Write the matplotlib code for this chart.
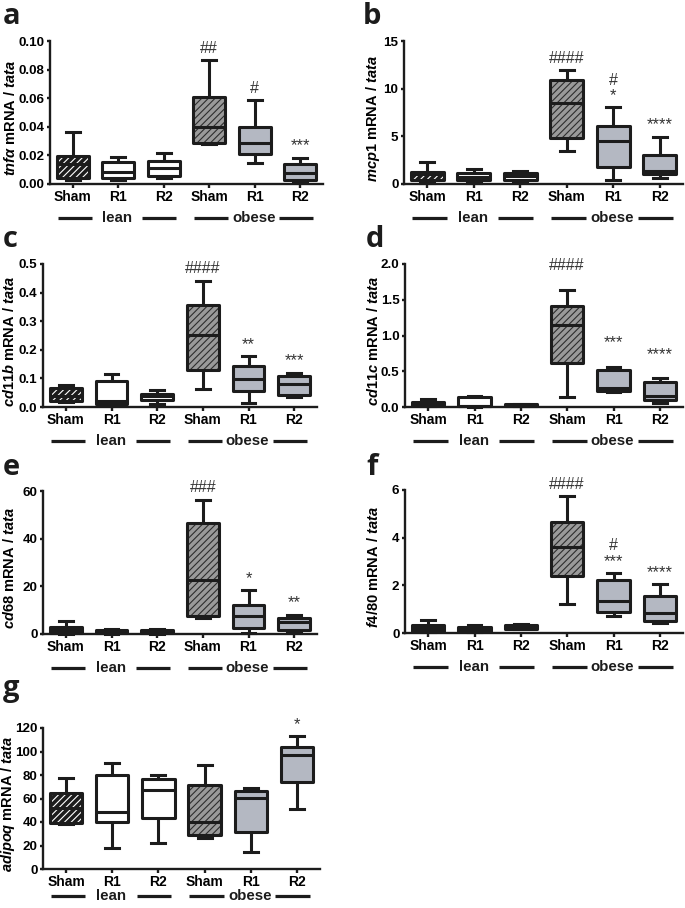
import numpy as np
import matplotlib.pyplot as plt
import matplotlib.transforms as mtransforms
from matplotlib.patches import PathPatch

plt.rcParams['font.family'] = ['Liberation Sans', 'DejaVu Sans']
plt.rcParams['mathtext.fontset'] = 'custom'
plt.rcParams['mathtext.it'] = 'Liberation Sans:italic:bold'
plt.rcParams['mathtext.rm'] = 'Liberation Sans:bold'
plt.rcParams['hatch.linewidth'] = 0.8

groups = ['Sham', 'R1', 'R2', 'Sham', 'R1', 'R2']
cohorts = ['lean', 'obese']

# each box: [whisker low, q1, median, q3, whisker high]
tnfa = [[0.003, 0.004, 0.014, 0.0196, 0.0366],
        [0.003, 0.004, 0.0086, 0.0156, 0.019],
        [0.0044, 0.0056, 0.0114, 0.0163, 0.0215],
        [0.0277, 0.029, 0.0396, 0.0606, 0.0867],
        [0.0145, 0.021, 0.0284, 0.040, 0.0587],
        [0.0016, 0.003, 0.0075, 0.0138, 0.0184]]
mcp1 = [[0.14, 0.42, 1.05, 1.3, 2.27],
        [0.14, 0.42, 0.77, 1.12, 1.54],
        [0.2, 0.42, 0.87, 1.19, 1.36],
        [3.46, 4.79, 8.53, 10.9, 11.96],
        [0.42, 1.82, 4.55, 6.08, 8.04],
        [0.6, 1.0, 1.4, 3.04, 4.97]]
cd11b = [[0.016, 0.02, 0.037, 0.066, 0.078],
         [0.008, 0.012, 0.02, 0.09, 0.116],
         [0.012, 0.026, 0.037, 0.045, 0.058],
         [0.063, 0.128, 0.252, 0.357, 0.442],
         [0.014, 0.055, 0.098, 0.142, 0.177],
         [0.035, 0.043, 0.08, 0.11, 0.12]]
cd11c = [[0.01, 0.023, 0.04, 0.07, 0.117],
         [0.005, 0.01, 0.02, 0.14, 0.15],
         [0.01, 0.015, 0.025, 0.035, 0.045],
         [0.14, 0.61, 1.15, 1.41, 1.64],
         [0.21, 0.22, 0.27, 0.515, 0.56],
         [0.06, 0.1, 0.16, 0.35, 0.40]]
cd68 = [[0.14, 0.4, 1.8, 2.8, 5.3],
        [0.14, 0.4, 1.1, 1.8, 2.2],
        [0.14, 0.4, 1.1, 1.67, 2.2],
        [6.7, 7.4, 22.7, 46.4, 56.4],
        [0.56, 2.5, 7.4, 12.0, 18.5],
        [1.1, 1.8, 4.9, 6.7, 8.1]]
f480 = [[0.04, 0.08, 0.22, 0.35, 0.56],
        [0.04, 0.08, 0.18, 0.25, 0.35],
        [0.15, 0.18, 0.25, 0.32, 0.36],
        [1.23, 2.38, 3.62, 4.67, 5.76],
        [0.71, 0.88, 1.35, 2.22, 2.52],
        [0.4, 0.5, 0.85, 1.55, 2.05]]
adipoq = [[38.1, 39.0, 51.7, 65.1, 77.3],
          [17.6, 40.4, 48.9, 80.2, 90.1],
          [21.9, 43.8, 67.4, 76.8, 80.2],
          [26.2, 29.0, 40.4, 71.7, 88.7],
          [14.8, 31.3, 60.8, 66.0, 68.8],
          [50.9, 73.9, 97.2, 103.5, 112.9]]

tnfa_hash = ['', '', '', '##', '#', '']
tnfa_star = ['', '', '', '', '', '***']
mcp1_hash = ['', '', '', '####', '#', '']
mcp1_star = ['', '', '', '', '*', '****']
cd11b_hash = ['', '', '', '####', '', '']
cd11b_star = ['', '', '', '', '**', '***']
cd11c_hash = ['', '', '', '####', '', '']
cd11c_star = ['', '', '', '', '***', '****']
cd68_hash = ['', '', '', '###', '', '']
cd68_star = ['', '', '', '', '*', '**']
f480_hash = ['', '', '', '####', '#', '']
f480_star = ['', '', '', '', '***', '****']
adipoq_hash = ['', '', '', '', '', '']
adipoq_star = ['', '', '', '', '', '*']

INK = '#1c1c1c'
LW = 2.2
faces = ['#1c1c1c', 'white', 'white', '#9a9a9a', '#b4b8c2', '#b4b8c2']
hatches = ['/////', None, None, '/////', None, None]
hatch_cols = ['white', None, None, '#2e2e2e', None, None]

W, H = 685, 908


def px_axes(fig, left, right, top, bottom):
    return fig.add_axes([left / W, 1 - bottom / H, (right - left) / W, (bottom - top) / H])


def panel(ax, stats, ylabel, label_x, row_px, ymax, ystep, fmt, hashes, stars, pad=3):
    bstats = [dict(whislo=s[0], q1=s[1], med=s[2], q3=s[3], whishi=s[4]) for s in stats]
    pos = np.arange(len(groups))
    art = ax.bxp(bstats, positions=pos, widths=0.7, capwidths=0.3, showfliers=False,
                 patch_artist=True,
                 boxprops=dict(linewidth=LW, edgecolor=INK, joinstyle='round'),
                 whiskerprops=dict(linewidth=LW, color=INK, solid_capstyle='butt'),
                 capprops=dict(linewidth=LW, color=INK, solid_capstyle='projecting'),
                 medianprops=dict(linewidth=LW, color=INK, solid_capstyle='butt'))
    for k in art:
        for a in art[k]:
            a.set_clip_on(False)
    for i, box in enumerate(art['boxes']):
        box.set_facecolor(faces[i])
        if hatches[i]:
            box.set_edgecolor(hatch_cols[i])
            box.set_linewidth(0)
            box.set_hatch(hatches[i])
            ax.add_patch(PathPatch(box.get_path(), fill=False, edgecolor=INK, linewidth=LW,
                                   joinstyle='round', zorder=box.get_zorder() + 0.05,
                                   clip_on=False))

    ax.set_xlim(-0.5, 5.5)
    ax.set_ylim(0, ymax)
    ax.set_yticks(np.arange(0, ymax + ystep / 2, ystep))
    ax.yaxis.set_major_formatter(plt.FormatStrFormatter(fmt))
    ax.set_xticks(pos)
    ax.set_xticklabels(groups)
    for s in ['top', 'right']:
        ax.spines[s].set_visible(False)
    for s in ['left', 'bottom']:
        ax.spines[s].set_linewidth(1.7)
        ax.spines[s].set_color(INK)
    ax.tick_params(width=1.7, length=3, color=INK, labelsize=10, pad=1.5)
    ax.tick_params(axis='y', labelsize=9.6, length=2.5)
    for lab in ax.get_xticklabels() + ax.get_yticklabels():
        lab.set_fontweight('bold')
    ax.set_ylabel(ylabel, fontsize=10.5, fontweight='bold')
    ax.yaxis.label.set_va('center')
    ax.yaxis.set_label_coords(label_x / W, 0.46,
                              transform=mtransforms.blended_transform_factory(fig.transFigure, ax.transAxes))

    # cohort rows below the tick labels
    trans = ax.get_xaxis_transform()
    y = -row_px / 143
    for g, name in enumerate(cohorts):
        x0 = 3 * g
        for a0, a1 in [(x0 - 0.33, x0 + 0.42), (x0 + 1.53, x0 + 2.28)]:
            ax.plot([a0, a1], [y, y], transform=trans, color=INK, lw=2.3,
                    solid_capstyle='butt', clip_on=False)
        ax.text(x0 + 0.98, y, name, transform=trans, ha='center', va='center',
                fontsize=10.8, fontweight='bold', color=INK)

    for i, s in enumerate(stats):
        off = pad
        if stars[i]:
            ax.annotate(stars[i], xy=(i, s[4]), xytext=(0, off), textcoords='offset points',
                        ha='center', va='bottom', fontsize=12, color='#333333',
                        annotation_clip=False)
            off += 11
        if hashes[i]:
            ax.annotate(hashes[i], xy=(i, s[4]), xytext=(0, off), textcoords='offset points',
                        ha='center', va='bottom', fontsize=11.5, color='#333333',
                        annotation_clip=False)


fig = plt.figure(figsize=(W / 100, H / 100), dpi=100)

specs = [
    ('a', (50, 323, 41, 184), (3, 24), 11, 34, tnfa, r'$tnf\alpha$ mRNA / $tata$', 0.10, 0.02, '%.2f', tnfa_hash, tnfa_star, 3),
    ('b', (404, 683, 41, 184), (363, 24), 373, 34, mcp1, r'$mcp1$ mRNA / $tata$', 15, 5, '%d', mcp1_hash, mcp1_star, 3),
    ('c', (43, 317, 264, 407), (3, 247), 10, 34, cd11b, r'$cd11b$ mRNA / $tata$', 0.5, 0.1, '%.1f', cd11b_hash, cd11b_star, 3),
    ('d', (405, 683, 264, 407), (366, 247), 373, 34, cd11c, r'$cd11c$ mRNA / $tata$', 2.0, 0.5, '%.1f', cd11c_hash, cd11c_star, 12),
    ('e', (43, 317, 491, 634), (3, 475), 10, 34, cd68, r'$cd68$ mRNA / $tata$', 60, 20, '%d', cd68_hash, cd68_star, 3),
    ('f', (405, 683, 490, 633), (366, 475), 373, 34, f480, r'$f4/80$ mRNA / $tata$', 6, 2, '%d', f480_hash, f480_star, 3),
    ('g', (43, 320, 728, 869), (3, 696), 8, 27, adipoq, r'$adipoq$ mRNA / $tata$', 120, 20, '%d', adipoq_hash, adipoq_star, 3),
]

for letter, box, lpos, lab_x, row_px, stats, ylab, ymax, ystep, fmt, hsh, st, pad in specs:
    ax = px_axes(fig, *box)
    panel(ax, stats, ylab, lab_x, row_px, ymax, ystep, fmt, hsh, st, pad)
    fig.text(lpos[0] / W, 1 - lpos[1] / H, letter, fontsize=21, fontweight='bold',
             family=['Open Sans', 'DejaVu Sans'], va='baseline', ha='left', color=INK)

fig.savefig('out.png', dpi=100)
